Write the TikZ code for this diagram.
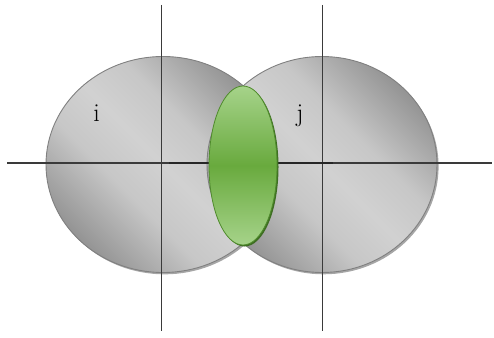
\documentclass[tikz,border=0pt]{standalone}
\usetikzlibrary{shapes.geometric}
\definecolor{rimgray}{HTML}{808080}
\definecolor{axisline}{HTML}{3A3A3A}
\definecolor{glight}{HTML}{A6D38A}
\definecolor{gmid}{HTML}{69AA3E}
\definecolor{gedge}{HTML}{4F8B2C}
\definecolor{gshadow}{HTML}{3E6E22}
\pgfdeclareverticalshading{discshade}{100bp}{%
  color(0bp)=(black!58); color(16bp)=(black!54); color(28bp)=(black!38);
  color(40bp)=(black!22); color(50bp)=(black!18); color(60bp)=(black!22);
  color(72bp)=(black!38); color(84bp)=(black!54); color(100bp)=(black!58)}
\tikzset{
  disc/.style={draw=rimgray, line width=0.9bp, shading=discshade, shading angle=-45},
  discshadow/.style={fill=black!35},
  axis/.style={draw=axisline, line width=1.3bp},
  radiusseg/.style={draw=black!85, line width=2bp},
  lens/.style={draw=gedge, line width=0.8bp, top color=glight, bottom color=glight, middle color=gmid},
  lensshadow/.style={fill=gshadow},
  lbl/.style={font=\fontsize{26}{30}\selectfont, inner sep=0pt}
}
\begin{document}
\begin{tikzpicture}[x=1bp,y=1bp]
\useasboundingbox (0,0) rectangle (494,337);
% circles
\coordinate (ci) at (163,172.5);
\coordinate (cj) at (322,172.5);
\fill[discshadow] ([shift={(1.6,-1.8)}]ci) ellipse [x radius=117bp, y radius=108bp];
\fill[discshadow] ([shift={(1.6,-1.8)}]cj) ellipse [x radius=115bp, y radius=108bp];
\shade[disc] (ci) ellipse [x radius=117bp, y radius=108bp];
\shade[disc] (cj) ellipse [x radius=115bp, y radius=108bp];
% axes
\coordinate (hl) at (7,174);
\coordinate (hr) at (492,174);
\coordinate (vit) at (161.5,332);
\coordinate (vib) at (161.5,6);
\coordinate (vjt) at (322.5,332);
\coordinate (vjb) at (322.5,6);
\draw[axis] (hl) -- (hr);
\draw[axis] (vit) -- (vib);
\draw[axis] (vjt) -- (vjb);
\coordinate (sa) at (169,174);
\coordinate (sb) at (215,174);
\coordinate (sc) at (272,174);
\coordinate (sd) at (333,174);
\draw[radiusseg] (sa) -- (sb);
\draw[radiusseg] (sc) -- (sd);
% lens
\coordinate (cl) at (243,171.5);
\fill[lensshadow] ([shift={(1.5,-1.5)}]cl) ellipse [x radius=34bp, y radius=79.5bp];
\shade[lens] (cl) ellipse [x radius=34bp, y radius=79.5bp];
% labels
\node[lbl, anchor=base] (li) at (96.5,215.5) {i};
\node[lbl, anchor=base] (lj) at (300,215.5) {j};
\end{tikzpicture}
\end{document}
